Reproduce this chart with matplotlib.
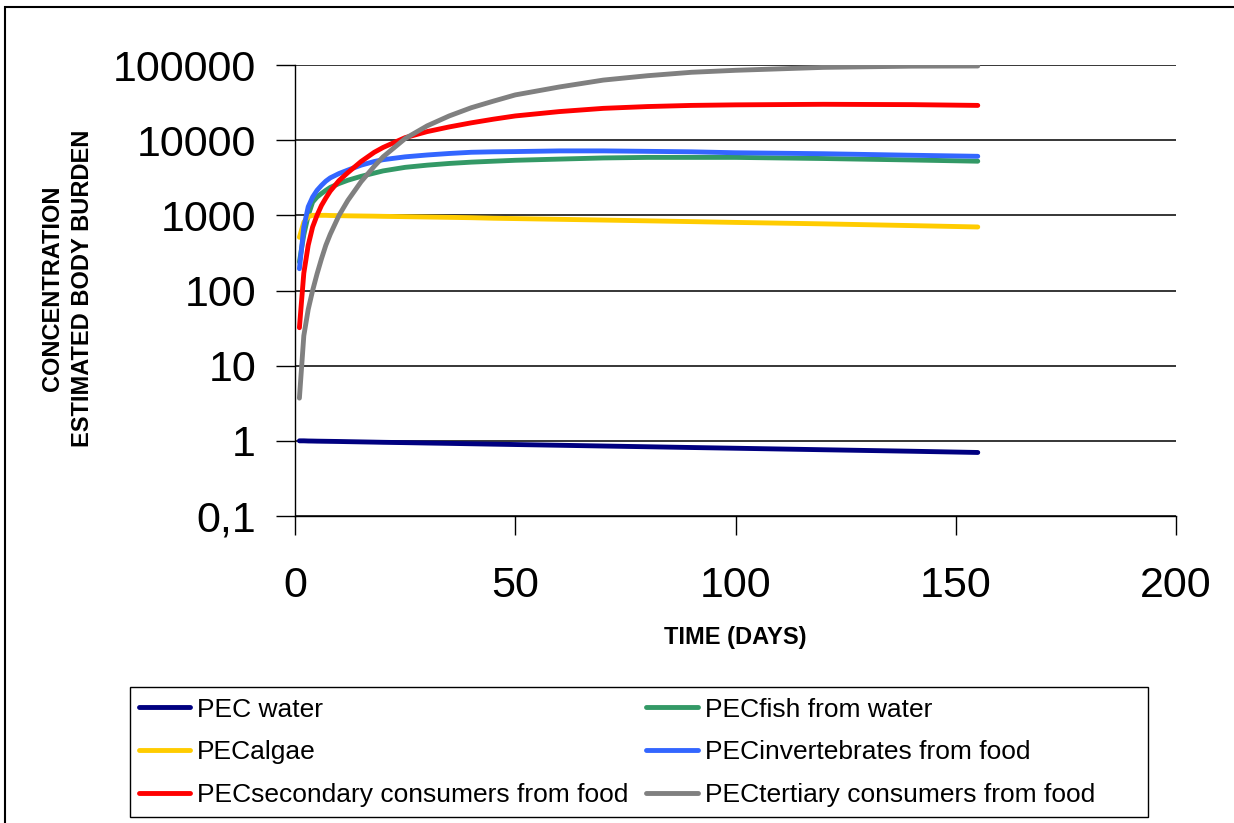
import numpy as np
import matplotlib.pyplot as plt
from matplotlib.patches import Rectangle

plt.rcParams['font.family'] = ['Liberation Sans', 'DejaVu Sans']

# valores (dias e concentrações)
dias = [1, 2, 3, 4, 5, 6, 7, 8, 10, 12, 15, 18, 20, 25, 30, 35, 40, 45, 50,
        60, 70, 80, 90, 100, 120, 140, 155]

pec_agua = [1.0, 1.0, 0.995, 0.993, 0.99, 0.988, 0.986, 0.984, 0.98, 0.975,
            0.968, 0.961, 0.956, 0.946, 0.935, 0.925, 0.914, 0.903, 0.893,
            0.873, 0.853, 0.834, 0.815, 0.797, 0.761, 0.727, 0.70]
pec_peixe = [240, 550, 1000, 1500, 1750, 1950, 2150, 2350, 2650, 2930,
             3300, 3650, 3900, 4350, 4650, 4900, 5100, 5250, 5400,
             5600, 5800, 5900, 5900, 5900, 5700, 5450, 5250]
pec_algas = [510, 810, 960, 1000, 1000, 1000, 1000, 995, 990, 985,
             980, 975, 970, 960, 950, 940, 930, 915, 905,
             885, 865, 845, 825, 805, 770, 730, 700]
pec_invert = [195, 700, 1300, 1750, 2150, 2500, 2850, 3150, 3600, 4000,
              4650, 5200, 5500, 6000, 6350, 6650, 6900, 7000, 7050,
              7200, 7200, 7100, 7000, 6800, 6600, 6300, 6100]
pec_secund = [32, 170, 400, 700, 1000, 1350, 1700, 2100, 2900, 3700,
              5200, 6900, 8000, 10800, 13000, 15000, 17000, 19000, 21000,
              24000, 26500, 28000, 29000, 29500, 30000, 29700, 29000]
pec_terc = [3.7, 25, 56, 100, 166, 263, 400, 560, 1000, 1580,
            2800, 4500, 6000, 10500, 15500, 21000, 27000, 33000, 40000,
            51000, 63000, 72000, 80000, 85000, 93000, 96500, 97000]

series = [
    ("PEC water", pec_agua, "#000080"),
    ("PECfish from water", pec_peixe, "#339966"),
    ("PECalgae", pec_algas, "#FFCC00"),
    ("PECinvertebrates from food", pec_invert, "#3366FF"),
    ("PECsecondary consumers from food", pec_secund, "#FF0000"),
    ("PECtertiary consumers from food", pec_terc, "#808080"),
]

y_ticks = [0.1, 1, 10, 100, 1000, 10000, 100000]
y_labels = ["0,1", "1", "10", "100", "1000", "10000", "100000"]
x_ticks = [0, 50, 100, 150, 200]

fig = plt.figure(figsize=(12.34, 8.23), dpi=100)
W, H = 1234, 823
ax = fig.add_axes([295 / W, 1 - 516 / H, (1176 - 295) / W, (516 - 65) / H])

handles = []
for nome, valores, cor in series:
    ln, = ax.plot(dias, valores, color=cor, lw=3.5, solid_capstyle='round',
                  solid_joinstyle='round', label=nome)
    handles.append(ln)

ax.set_yscale('log')
ax.set_ylim(0.1, 100000)
ax.set_xlim(0, 200)
ax.set_yticks(y_ticks)
ax.set_yticklabels(y_labels)
ax.minorticks_off()
ax.set_xticks(x_ticks)
ax.set_xticklabels([str(v) for v in x_ticks])
ax.tick_params(labelsize=31, length=14, width=1, direction='out', color='black', pad=14)
ax.tick_params(axis='x', pad=22)
ax.grid(axis='y', color='black', lw=1.1)
ax.set_axisbelow(True)
for lado in ['top', 'right']:
    ax.spines[lado].set_visible(False)
ax.spines['left'].set_linewidth(1)
ax.spines['bottom'].set_linewidth(1)

# legenda: entradas coluna por coluna, moldura desenhada à parte
ordem = [0, 2, 4, 1, 3, 5]
leg = fig.legend([handles[i] for i in ordem], [series[i][0] for i in ordem],
                 loc='upper left', ncol=2, bbox_to_anchor=(128 / W, 1 - 687 / H),
                 fontsize=19, frameon=False, handlelength=1.95, handletextpad=0.25,
                 borderaxespad=0, borderpad=0.4, labelspacing=0.71, columnspacing=0.7)
fig.patches.append(Rectangle((130 / W, 1 - 817 / H), (1148 - 130) / W, (817 - 687) / H,
                             transform=fig.transFigure, fill=False, edgecolor='black', lw=1))

fig.text(67.5 / W, 1 - 288 / H, "CONCENTRATION\nESTIMATED BODY BURDEN", rotation=90,
         ha='center', va='center', fontsize=17, fontweight='bold', linespacing=1.4)
fig.text(735.5 / W, 1 - 637.5 / H, "TIME (DAYS)", ha='center', va='center',
         fontsize=17, fontweight='bold')

# moldura externa (só aparecem os lados esquerdo e superior)
fig.patches.append(Rectangle((5 / W, -0.05), 1.2, 1 - 7 / H + 0.05, transform=fig.transFigure,
                             fill=False, edgecolor='black', lw=1.5))

fig.savefig("out.png", dpi=100)
